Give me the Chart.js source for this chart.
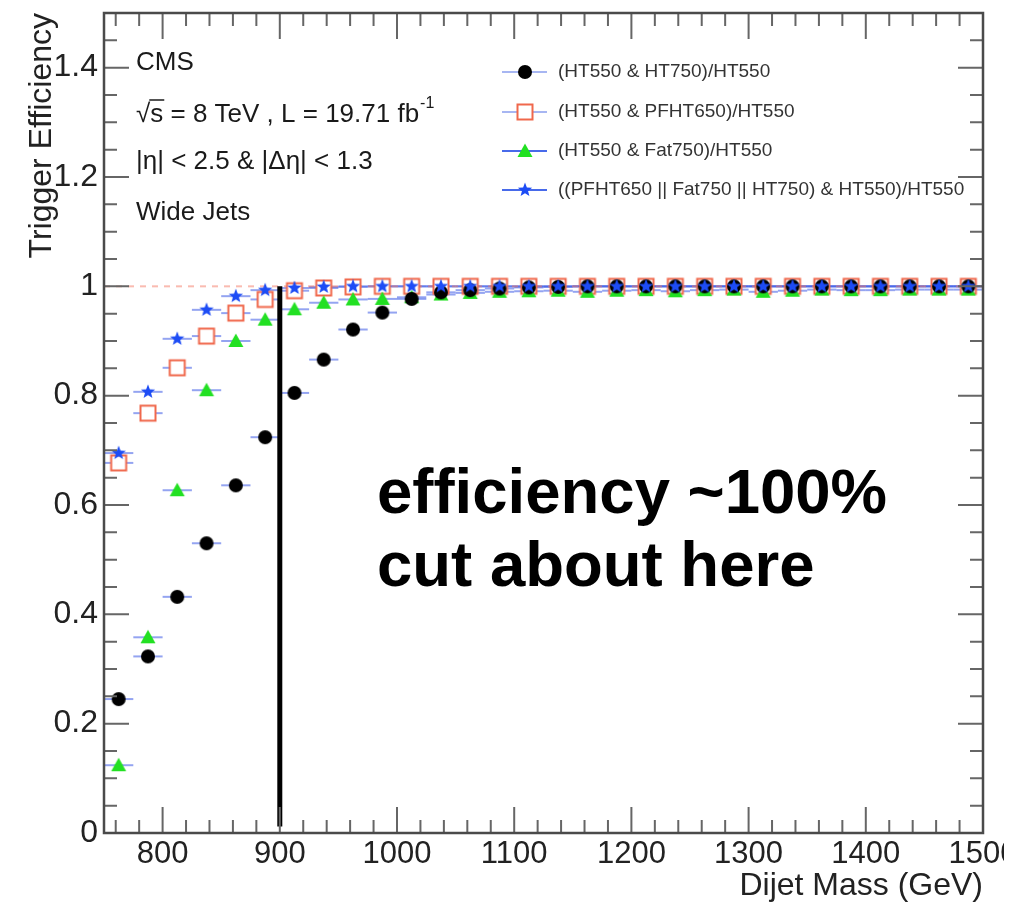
<!DOCTYPE html>
<html>
<head>
<meta charset="utf-8">
<script src="https://cdn.jsdelivr.net/npm/chart.js@4.4.1/dist/chart.umd.min.js"></script>
<style>
  html, body { margin: 0; background: #fff; }
  #wrap { width: 1004px; height: 905px; overflow: hidden; }
</style>
</head>
<body>
<div id="wrap"><canvas id="eff" width="1004" height="905"></canvas></div>
<script>
// dijet mass bin centres (25 GeV bins) and trigger efficiencies per path
const massBins = [762.5, 787.5, 812.5, 837.5, 862.5, 887.5, 912.5, 937.5, 962.5, 987.5,
  1012.5, 1037.5, 1062.5, 1087.5, 1112.5, 1137.5, 1162.5, 1187.5, 1212.5, 1237.5,
  1262.5, 1287.5, 1312.5, 1337.5, 1362.5, 1387.5, 1412.5, 1437.5, 1462.5, 1487.5];
const ht750Eff = [0.245, 0.323, 0.432, 0.530, 0.636, 0.724, 0.805, 0.866, 0.921, 0.952,
  0.977, 0.989, 0.993, 0.996, 0.998, 0.999, 1.0, 1.0, 1.0, 1.0,
  1.0, 1.0, 1.0, 1.0, 1.0, 1.0, 1.0, 1.0, 1.0, 1.0];
const pfht650Eff = [0.677, 0.768, 0.851, 0.909, 0.951, 0.976, 0.992, 0.997, 0.999, 1.0,
  1.0, 1.0, 1.0, 1.0, 1.0, 1.0, 1.0, 1.0, 1.0, 1.0,
  1.0, 1.0, 1.0, 1.0, 1.0, 1.0, 1.0, 1.0, 1.0, 1.0];
const fat750Eff = [0.124, 0.358, 0.627, 0.810, 0.900, 0.939, 0.958, 0.970, 0.976, 0.977,
  0.980, 0.985, 0.988, 0.990, 0.991, 0.992, 0.990, 0.992, 0.993, 0.991,
  0.993, 0.994, 0.990, 0.992, 0.994, 0.993, 0.993, 0.994, 0.994, 0.994];
const combinedEff = [0.695, 0.807, 0.904, 0.957, 0.982, 0.993, 0.997, 0.999, 1.0, 1.0,
  1.0, 1.0, 1.0, 1.0, 1.0, 1.0, 1.0, 1.0, 1.0, 1.0,
  1.0, 1.0, 1.0, 1.0, 1.0, 1.0, 1.0, 1.0, 1.0, 1.0];
const binHalfWidth = 12.5;
const massTicks = [800, 900, 1000, 1100, 1200, 1300, 1400, 1500];
const effTicks = [0, 0.2, 0.4, 0.6, 0.8, 1, 1.2, 1.4];
const cutMass = 900;
const legendLabels = [
  "(HT550 & HT750)/HT550",
  "(HT550 & PFHT650)/HT550",
  "(HT550 & Fat750)/HT550",
  "((PFHT650 || Fat750 || HT750) & HT550)/HT550"
];

const FONT = "'Liberation Sans', Arial, Helvetica, sans-serif";

function marker(kind) {
  const c = document.createElement("canvas");
  c.width = 24; c.height = 24;
  const g = c.getContext("2d");
  g.translate(12, 12);
  g.beginPath();
  if (kind === "circle") {
    g.fillStyle = "#000";
    g.arc(0, 0, 7, 0, Math.PI * 2);
    g.fill();
  } else if (kind === "square") {
    g.fillStyle = "#fff";
    g.strokeStyle = "#f0684c";
    g.lineWidth = 2;
    g.fillRect(-7.5, -7.5, 15, 15);
    g.strokeRect(-7.5, -7.5, 15, 15);
  } else if (kind === "triangle") {
    g.fillStyle = "#22e022";
    g.moveTo(0, -7.5); g.lineTo(7.5, 6); g.lineTo(-7.5, 6);
    g.closePath(); g.fill();
  } else {
    g.fillStyle = "#1d4cf5";
    for (let i = 0; i < 10; i++) {
      const r = i % 2 ? 3.2 : 7.5;
      const a = -Math.PI / 2 + i * Math.PI / 5;
      g.lineTo(r * Math.cos(a), r * Math.sin(a));
    }
    g.closePath(); g.fill();
  }
  return c;
}

const markers = [marker("circle"), marker("square"), marker("triangle"), marker("star")];
const legendLine = ["rgba(80,110,230,0.5)", "rgba(80,110,230,0.5)", "rgba(40,80,230,0.85)", "rgba(40,80,230,0.85)"];

const pts = vals => vals.map((v, i) => ({ x: massBins[i], y: v }));
const series = (data, img) => ({ data: pts(data), pointStyle: img, pointRadius: 7, xErr: binHalfWidth });

// horizontal bin-width bars under each marker
const errorBars = {
  id: "errorBars",
  beforeDatasetsDraw(chart) {
    const { ctx, scales: { x, y } } = chart;
    ctx.save();
    ctx.strokeStyle = "rgba(60,90,230,0.55)";
    ctx.lineWidth = 2;
    chart.data.datasets.forEach(ds => {
      if (!ds.xErr) return;
      ds.data.forEach(p => {
        const py = y.getPixelForValue(p.y);
        ctx.beginPath();
        ctx.moveTo(x.getPixelForValue(p.x - ds.xErr), py);
        ctx.lineTo(x.getPixelForValue(p.x + ds.xErr), py);
        ctx.stroke();
      });
    });
    ctx.restore();
  }
};

// ROOT-style frame with inward ticks, info text, legend and note
const decorations = {
  id: "decorations",
  afterDraw(chart) {
    const { ctx, chartArea: a, scales: { x, y } } = chart;
    ctx.save();
    ctx.strokeStyle = "#666";
    ctx.lineWidth = 2;
    ctx.beginPath();
    for (let v = 760; v <= 1500; v += 20) {
      const px = x.getPixelForValue(v);
      const len = v % 100 === 0 ? 26 : 13;
      ctx.moveTo(px, a.bottom); ctx.lineTo(px, a.bottom - len);
      ctx.moveTo(px, a.top); ctx.lineTo(px, a.top + len);
    }
    for (let k = 0; k <= 30; k++) {
      const py = y.getPixelForValue(k * 0.05);
      const len = k % 4 === 0 ? 25 : 13;
      ctx.moveTo(a.left, py); ctx.lineTo(a.left + len, py);
      ctx.moveTo(a.right, py); ctx.lineTo(a.right - len, py);
    }
    ctx.stroke();
    ctx.strokeStyle = "#4a4a4a";
    ctx.lineWidth = 2.5;
    ctx.strokeRect(a.left, a.top, a.right - a.left, a.bottom - a.top);

    // experiment / selection text
    ctx.fillStyle = "#1a1a1a";
    ctx.textBaseline = "middle";
    ctx.textAlign = "left";
    ctx.font = "26px " + FONT;
    ctx.fillText("CMS", 136, 63);
    const l2 = "√s = 8 TeV , L = 19.71 fb";
    ctx.fillText(l2, 136, 115);
    const rootW = ctx.measureText("√").width;
    const sW = ctx.measureText("s").width;
    ctx.lineWidth = 1.5;
    ctx.strokeStyle = "#1a1a1a";
    ctx.beginPath();
    ctx.moveTo(136 + rootW - 1, 100); ctx.lineTo(136 + rootW + sW + 1, 100);
    ctx.stroke();
    const w2 = ctx.measureText(l2).width;
    ctx.font = "16px " + FONT;
    ctx.fillText("-1", 136 + w2 + 1, 104);
    ctx.font = "26px " + FONT;
    ctx.fillText("|η| < 2.5 & |Δη| < 1.3", 136, 162);
    ctx.fillText("Wide Jets", 136, 213);

    // legend
    const rows = [72, 112, 151, 190];
    ctx.font = "19px " + FONT;
    rows.forEach((ry, i) => {
      ctx.strokeStyle = legendLine[i];
      ctx.lineWidth = 2;
      ctx.beginPath();
      ctx.moveTo(502, ry); ctx.lineTo(547, ry);
      ctx.stroke();
      ctx.drawImage(markers[i], 525 - 12, ry - 12);
      ctx.fillStyle = "#333";
      ctx.fillText(legendLabels[i], 558, ry);
    });

    // annotation
    ctx.fillStyle = "#000";
    ctx.textBaseline = "alphabetic";
    ctx.font = "bold 63.5px " + FONT;
    ctx.fillText("efficiency ~100%", 377, 513);
    ctx.fillText("cut about here", 377, 586);
    ctx.restore();
  }
};

const tickFont = { family: FONT, size: 31 };
const yTickFont = { family: FONT, size: 32 };
const titleFont = { family: FONT, size: 32 };

new Chart(document.getElementById("eff"), {
  type: "scatter",
  data: {
    datasets: [
      { data: [{ x: cutMass, y: 0.012 }, { x: cutMass, y: 1 }], showLine: true, borderColor: "#000", borderWidth: 5, pointRadius: 0 },
      series(combinedEff, markers[3]),
      series(ht750Eff, markers[0]),
      series(fat750Eff, markers[2]),
      series(pfht650Eff, markers[1]),
      { data: [{ x: 750, y: 1 }, { x: 1500, y: 1 }], showLine: true, borderColor: "rgba(245,120,100,0.5)", borderDash: [6, 6], borderWidth: 2, pointRadius: 0 }
    ]
  },
  options: {
    responsive: false,
    animation: false,
    devicePixelRatio: 1,
    layout: { padding: { top: 13, right: 21, left: 0, bottom: 0 } },
    plugins: { legend: { display: false }, tooltip: { enabled: false } },
    scales: {
      x: {
        type: "linear", min: 750, max: 1500,
        afterBuildTicks: s => { s.ticks = massTicks.map(v => ({ value: v })); },
        afterFit: s => { s.height = 72; s.paddingLeft = 0; s.paddingRight = 0; },
        grid: { display: false, drawTicks: false },
        border: { display: false },
        ticks: { font: tickFont, color: "#222", padding: 3, maxRotation: 0, autoSkip: false, callback: v => String(v) },
        title: { display: true, text: "Dijet Mass (GeV)", align: "end", font: titleFont, color: "#222", padding: { top: 0, bottom: 0 } }
      },
      y: {
        type: "linear", min: 0, max: 1.5,
        afterBuildTicks: s => { s.ticks = effTicks.map(v => ({ value: v })); },
        afterFit: s => { s.width = 104; s.paddingTop = 0; s.paddingBottom = 0; },
        grid: { display: false, drawTicks: false },
        border: { display: false },
        ticks: { font: yTickFont, color: "#222", padding: 6, autoSkip: false, callback: v => String(v) },
        title: { display: true, text: "Trigger Efficiency", align: "end", font: titleFont, color: "#222", padding: { top: 23, bottom: 0 } }
      }
    }
  },
  plugins: [errorBars, decorations]
});
</script>
</body>
</html>
